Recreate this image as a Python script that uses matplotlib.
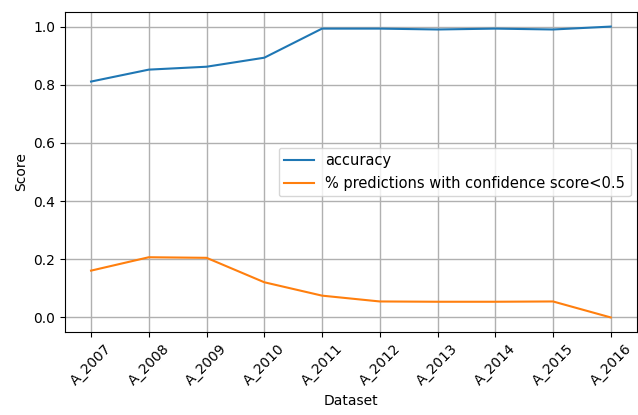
import matplotlib
matplotlib.use("Agg")
import matplotlib.pyplot as plt

datasets = ["A_2007", "A_2008", "A_2009", "A_2010", "A_2011", "A_2012",
            "A_2013", "A_2014", "A_2015", "A_2016"]
accuracy = [0.811, 0.852, 0.862, 0.893, 0.993, 0.993, 0.990, 0.993, 0.990, 1.0]
low_conf = [0.161, 0.207, 0.205, 0.121, 0.075, 0.055, 0.054, 0.054, 0.055, 0.0]

fig = plt.figure(figsize=(6.38, 4.15), dpi=100)
ax = fig.add_axes([0.102, 0.20, 0.896, 0.771])
ax.plot(datasets, accuracy, color="#1f77b4", label="accuracy")
ax.plot(datasets, low_conf, color="#ff7f0e", label="% predictions with confidence score<0.5")
ax.grid(True, color="#b0b0b0", linewidth=1)
ax.set_xlabel("Dataset")
ax.set_ylabel("Score")
ax.set_yticks([0.0, 0.2, 0.4, 0.6, 0.8, 1.0])
plt.setp(ax.get_xticklabels(), rotation=45)
ax.legend(loc="center right", fontsize=10.5, borderaxespad=0.4)
fig.savefig("out.png", dpi=100)
